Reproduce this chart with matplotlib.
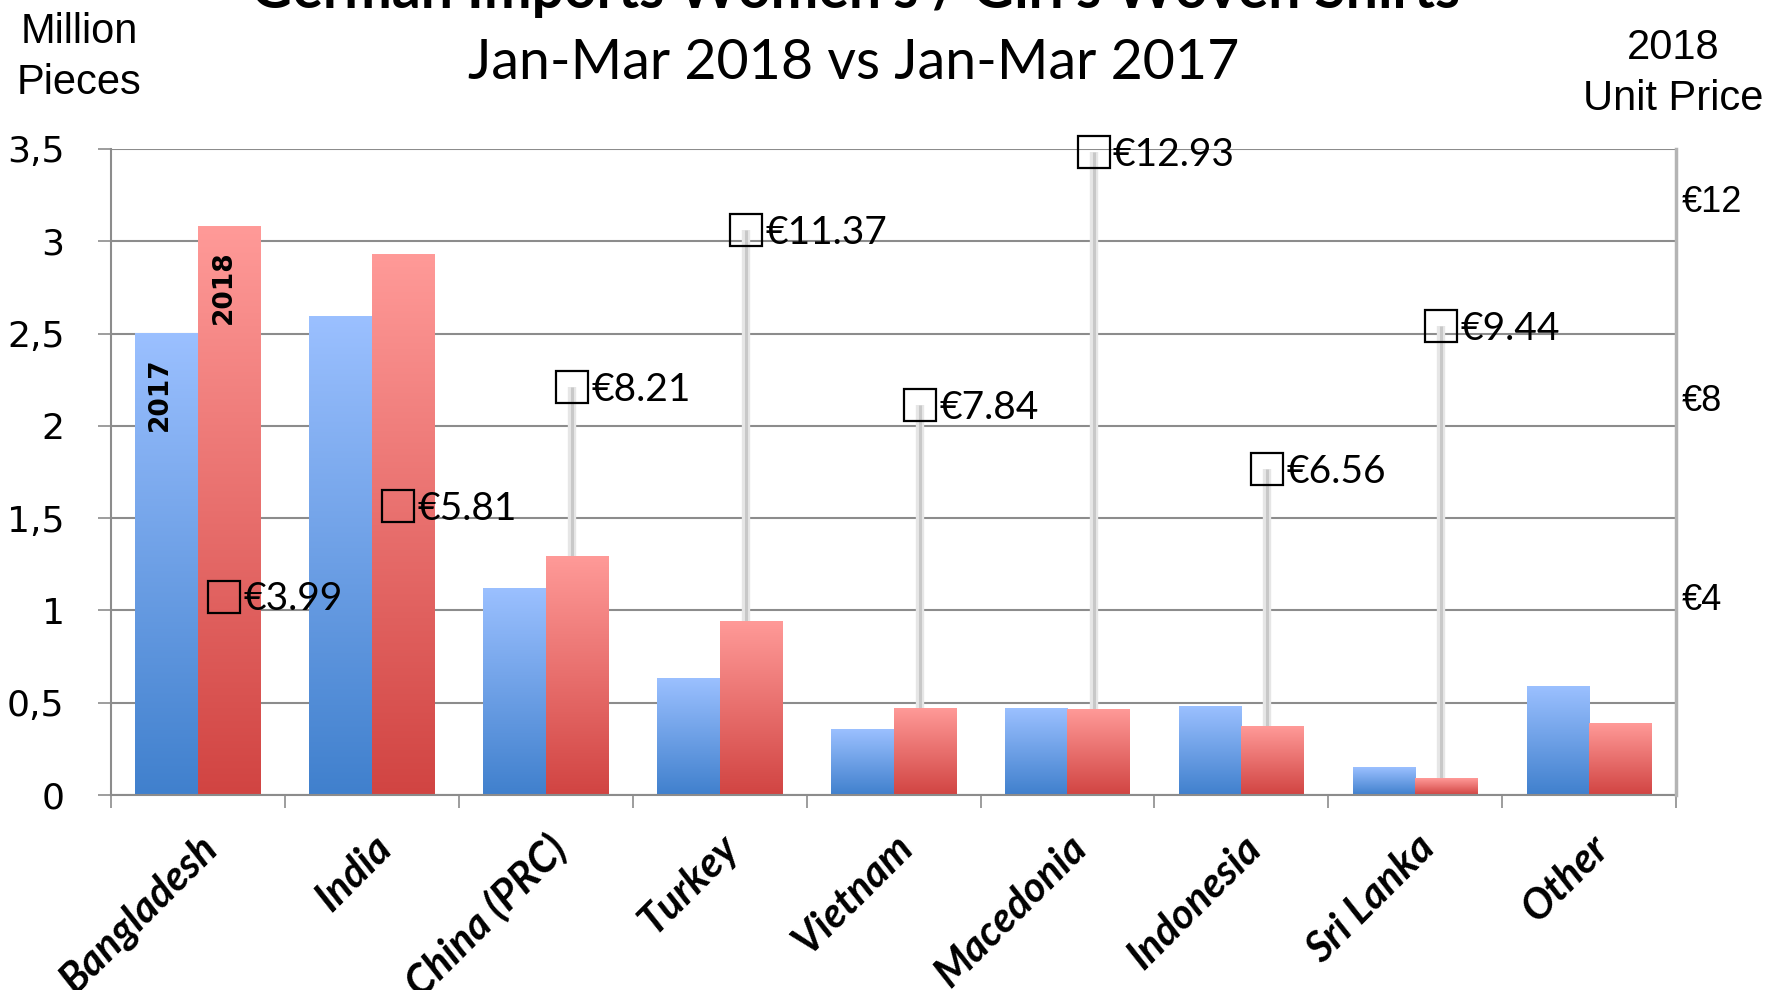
import numpy as np
import matplotlib
matplotlib.use('Agg')
import matplotlib.pyplot as plt
from matplotlib.colors import LinearSegmentedColormap

# data
countries = ['Bangladesh', 'India', 'China (PRC)', 'Turkey', 'Vietnam',
             'Macedonia', 'Indonesia', 'Sri Lanka', 'Other']
pieces_2017 = [2.50, 2.59, 1.12, 0.63, 0.355, 0.47, 0.48, 0.15, 0.59]
pieces_2018 = [3.08, 2.93, 1.29, 0.94, 0.47, 0.465, 0.37, 0.09, 0.385]
unit_price_2018 = [3.99, 5.81, 8.21, 11.37, 7.84, 12.93, 6.56, 9.44, np.nan]

left_ticks = [0, 0.5, 1, 1.5, 2, 2.5, 3, 3.5]
left_tick_labels = ['0', '0,5', '1', '1,5', '2', '2,5', '3', '3,5']
right_ticks = [4, 8, 12]
right_tick_labels = ['€4', '€8', '€12']

CAL = 'Lato'
ARIAL = 'Liberation Sans'
GRID = '#8c8c8c'

blue_cmap = LinearSegmentedColormap.from_list('b', ['#4080cd', '#9bc0ff'])
red_cmap = LinearSegmentedColormap.from_list('r', ['#d14442', '#ff9a98'])

fig = plt.figure(figsize=(17.71, 9.90), dpi=100)
ax = fig.add_axes([0.0627, 0.197, 0.8837, 0.6525])

x = np.arange(len(countries))
w = 0.36
b17 = ax.bar(x - w / 2, pieces_2017, w, facecolor='none', edgecolor='none')
b18 = ax.bar(x + w / 2, pieces_2018, w, facecolor='none', edgecolor='none')

# gradient fill for every bar
grad = np.linspace(0, 1, 256).reshape(-1, 1)
for bars, cmap in ((b17, blue_cmap), (b18, red_cmap)):
    for r in bars:
        ax.imshow(grad, cmap=cmap, origin='lower', aspect='auto', zorder=2,
                  extent=[r.get_x(), r.get_x() + r.get_width(), 0, r.get_height()])

ax.set_xlim(-0.5, len(countries) - 0.5)
ax.set_ylim(0, 3.5)

# price axis
ax2 = ax.twinx()
ax2.set_ylim(0, 13)
ax2.set_yticks(right_ticks)
ax2.set_yticklabels(right_tick_labels, fontsize=26, family=ARIAL)
ax2.tick_params(axis='y', length=0, pad=4)

# drop lines from 2018 bar top up to the price marker
price = np.array(unit_price_2018)
xp = x + 0.15
ok = ~np.isnan(price)
scale = ax.get_ylim()[1] / ax2.get_ylim()[1]
ax.vlines(xp[ok], np.array(pieces_2018)[ok], price[ok] * scale,
          color='#e6e6e6', lw=6, zorder=1.5)
ax.vlines(xp[ok], np.array(pieces_2018)[ok], price[ok] * scale,
          color='#c8c8c8', lw=2.2, zorder=1.6)

ax2.plot(xp[ok], price[ok], 's', ms=23, mfc='none', mec='black', mew=1.6,
         zorder=5, clip_on=False)
for xi, p in zip(xp[ok], price[ok]):
    ax2.annotate(f'€{p:.2f}', (xi, p), xytext=(14, -2), textcoords='offset points',
                 ha='left', va='center', fontsize=28, family=CAL)

# series name labels inside the first pair of bars
ax.text(x[0] - w / 2 - 0.04, pieces_2017[0] - 0.13, '2017', rotation=90,
        ha='center', va='top', fontsize=19, fontweight='bold',
        family='DejaVu Sans', zorder=4)
ax.text(x[0] + w / 2 - 0.03, pieces_2018[0] - 0.13, '2018', rotation=90,
        ha='center', va='top', fontsize=19, fontweight='bold',
        family='DejaVu Sans', zorder=4)

# grid and axes styling
ax.set_yticks(left_ticks)
ax.set_yticklabels(left_tick_labels, fontsize=26, family='DejaVu Sans')
ax.yaxis.grid(True, color=GRID, lw=1.5, zorder=0)
ax.set_axisbelow(True)
ax.tick_params(axis='y', length=9.5, width=1.2, color=GRID, pad=24)

ax.set_xticks(np.arange(len(countries) + 1) - 0.5, minor=False)
ax.set_xticklabels([])
ax.set_xticks(x, minor=True)
ax.set_xticklabels(countries, minor=True, rotation=45, ha='right',
                   rotation_mode='anchor', fontsize=30, fontweight='bold',
                   fontstyle='italic', family=CAL)
ax.tick_params(axis='x', which='major', length=9.5, width=1.2, color=GRID)
ax.tick_params(axis='x', which='minor', length=0, pad=24)

for s in ('top',):
    ax.spines[s].set_visible(False)
    ax2.spines[s].set_visible(False)
ax.spines['left'].set_color(GRID)
ax.spines['left'].set_linewidth(1.5)
ax.spines['bottom'].set_color(GRID)
ax.spines['bottom'].set_linewidth(1.5)
ax.spines['right'].set_visible(False)
ax2.spines['left'].set_visible(False)
ax2.spines['bottom'].set_visible(False)
ax2.spines['right'].set_color('#b4b4b4')
ax2.spines['right'].set_linewidth(2.5)

# titles and axis captions
fig.text(0.483, 1 - 8 / 990, "German Imports Women's / Girl's Woven Shirts",
         ha='center', va='baseline', fontsize=41, fontweight='bold', family=CAL)
fig.text(0.482, 1 - 79 / 990, 'Jan-Mar 2018 vs Jan-Mar 2017',
         ha='center', va='baseline', fontsize=40, family=CAL)
fig.text(0.0446, 0.942, 'Million\nPieces', ha='center', va='center',
         fontsize=30, family=ARIAL, linespacing=1.35)
fig.text(0.9447, 0.926, '2018\nUnit Price', ha='center', va='center',
         fontsize=30, family=ARIAL, linespacing=1.35)

fig.savefig('out.png', dpi=100)
